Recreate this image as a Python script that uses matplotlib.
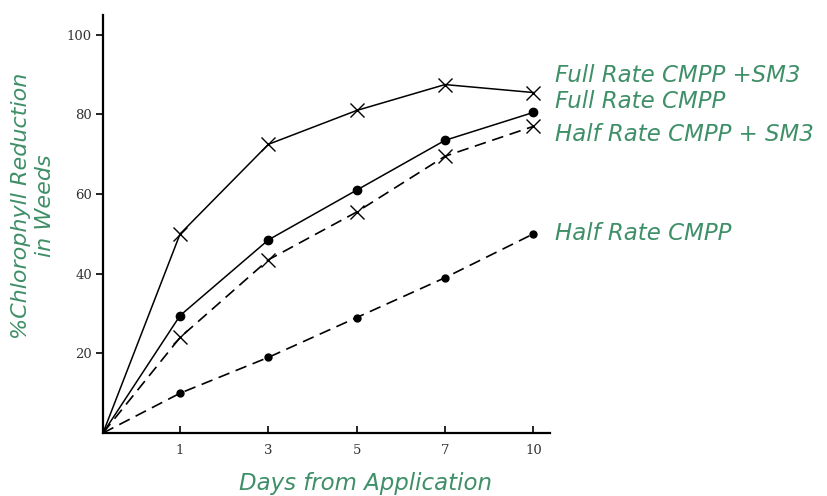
import numpy as np
import matplotlib
matplotlib.use("Agg")
import matplotlib.pyplot as plt

# данные
days = [1, 3, 5, 7, 10]
full_sm3 = [50, 72.5, 81, 87.5, 85.5]
full = [29.5, 48.5, 61, 73.5, 80.5]
half_sm3 = [24, 43.5, 55.5, 69.5, 77]
half = [10, 19, 29, 39, 50]
series_names = ["Full Rate CMPP +SM3", "Full Rate CMPP",
                "Half Rate CMPP + SM3", "Half Rate CMPP"]
yticks = [20, 40, 60, 80, 100]

green = "#3f8f68"
origin = 0.127  # ось x начинается тут

fig = plt.figure(figsize=(8.28, 4.96), dpi=100)
ax = fig.add_axes([0.1244, 0.127, 0.54, 0.843])

pos = np.arange(1, len(days) + 1)
xs = np.concatenate([[origin], pos])

# сплошные линии
ax.plot(xs, np.concatenate([[0], full_sm3]), color="black", lw=1.1)
ax.plot(pos, full_sm3, ls="none", marker="x", color="black", ms=10, mew=1.0)
ax.plot(xs, np.concatenate([[0], full]), color="black", lw=1.1)
ax.plot(pos, full, ls="none", marker="o", color="black", ms=6)
# пунктир
ax.plot(xs, np.concatenate([[0], half_sm3]), color="black", lw=1.2, dashes=(7, 4))
ax.plot(pos, half_sm3, ls="none", marker="x", color="black", ms=10, mew=1.0)
ax.plot(xs, np.concatenate([[0], half]), color="black", lw=1.2, dashes=(7, 4))
ax.plot(pos, half, ls="none", marker="o", color="black", ms=5)

# подписи серий справа
label_y = [full_sm3[-1] + 4.2, full[-1] + 2.7, half_sm3[-1] - 2.1, half[-1]]
for name, yy in zip(series_names, label_y):
    ax.text(pos[-1] + 0.25, yy, name, color=green, fontsize=16.5,
            style="italic", va="center", ha="left", clip_on=False)

ax.set_xlim(origin, 5.19)
ax.set_ylim(0, 105)
ax.set_xticks(pos)
ax.set_xticklabels([str(d) for d in days], family="DejaVu Serif",
                   fontsize=9.5, color="#333333")
ax.set_yticks(yticks)
ax.set_yticklabels([str(t) for t in yticks], family="DejaVu Serif",
                   fontsize=9.5, color="#333333")
ax.tick_params(axis="x", direction="in", length=5, width=1.2, pad=8)
ax.tick_params(axis="y", direction="out", length=5, width=1.2, pad=3)

for s in ["top", "right"]:
    ax.spines[s].set_visible(False)
for s in ["left", "bottom"]:
    ax.spines[s].set_linewidth(1.6)

ax.set_xlabel("Days from Application", color=green, fontsize=16.5,
              style="italic")
ax.xaxis.set_label_coords(0.588, -0.093)
fig.text(33 / 828, 1 - 206 / 496, "%Chlorophyll Reduction\nin Weeds",
         color=green, fontsize=16, style="italic", rotation=90,
         ha="center", va="center", multialignment="center", linespacing=1.3)

fig.savefig("out.png", dpi=100)
